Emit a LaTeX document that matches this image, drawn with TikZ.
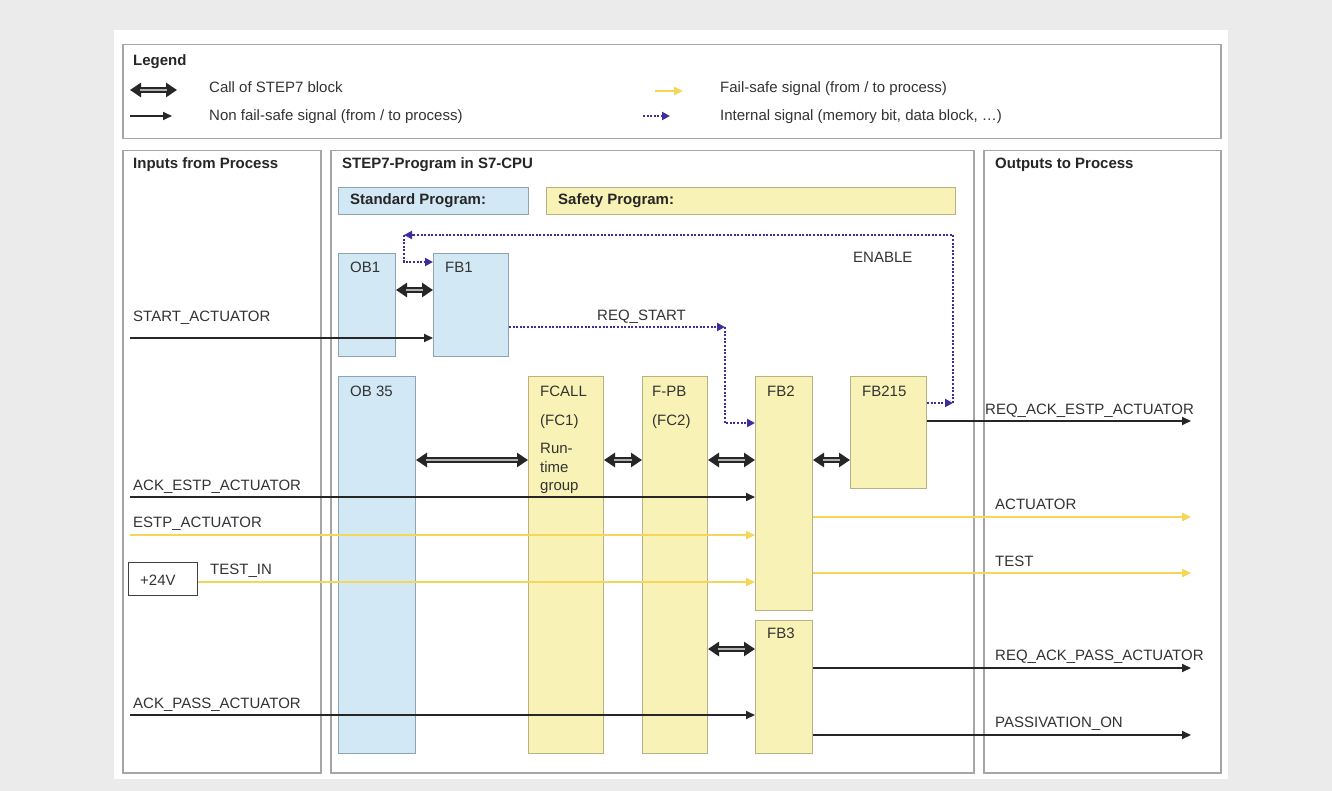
\documentclass[tikz,border=0pt]{standalone}
\usepackage{fontspec}
\setmainfont{Liberation Sans}
\usetikzlibrary{arrows.meta}
\definecolor{bg}{HTML}{EBEBEB}
\definecolor{panelc}{HTML}{A6A6A6}
\definecolor{bluef}{HTML}{D2E8F5}
\definecolor{blued}{HTML}{8FA4B2}
\definecolor{yelf}{HTML}{F8F2B6}
\definecolor{yeld}{HTML}{B9B184}
\definecolor{fsy}{HTML}{F4D659}
\definecolor{intc}{HTML}{3C2F9C}
\definecolor{txt}{HTML}{333333}
\tikzset{
  panel/.style={draw=panelc, line width=1.5pt, fill=white, anchor=north west, inner sep=0pt},
  sblk/.style={draw=blued, line width=1pt, fill=bluef, anchor=north west, inner sep=0pt},
  yblk/.style={draw=yeld, line width=1pt, fill=yelf, anchor=north west, inner sep=0pt},
  lbl/.style={anchor=base west, inner sep=0pt, text=txt, font=\fontsize{15}{18}\selectfont},
  blbl/.style={anchor=base west, inner sep=0pt, text=black!85, font=\bfseries\fontsize{15}{18}\selectfont},
  callarr/.style={draw=black!85, line width=5.5pt, {Triangle[length=11pt,width=14pt]}-{Triangle[length=11pt,width=14pt]},
     postaction={draw=gray!60, line width=2.8pt, arrows=-, shorten <=10pt, shorten >=10pt}},
  sig/.style={draw=black!85, line width=1.8pt, -{Triangle[length=9pt,width=8pt]}},
  fsig/.style={draw=fsy, line width=2.8pt, -{Triangle[length=9pt,width=8pt]}},
  isig/.style={draw=intc, line width=2pt, dash pattern=on 2pt off 1.6pt},
  isiga/.style={isig, -{Triangle[length=8pt,width=8pt]}},
}
\begin{document}
\begin{tikzpicture}[x=1pt,y=-1pt]
\useasboundingbox (0,0) rectangle (1332,791);
\fill[bg] (0,0) rectangle (1332,791);
\fill[white] (114,30) rectangle (1228,779);

% panels
\node[panel, minimum width=1098pt, minimum height=94pt] (legend) at (122,44) {};
\node[panel, minimum width=198pt, minimum height=622pt] (inp) at (122,150) {};
\node[panel, minimum width=643pt, minimum height=622pt] (prog) at (330,150) {};
\node[panel, minimum width=237pt, minimum height=622pt] (outp) at (983,150) {};

% legend
\node[blbl] (lgt) at (133,66) {Legend};
\coordinate (lc1) at (130,90); \coordinate (lc2) at (177,90);
\draw[callarr] (lc1) -- (lc2);
\node[lbl] (lt1) at (209,93) {Call of STEP7 block};
\coordinate (ln1) at (130,116); \coordinate (ln2) at (172,116);
\draw[sig] (ln1) -- (ln2);
\node[lbl] (lt2) at (209,121) {Non fail-safe signal (from / to process)};
\coordinate (lf1) at (655,91); \coordinate (lf2) at (683,91);
\draw[fsig] (lf1) -- (lf2);
\node[lbl] (lt3) at (720,93) {Fail-safe signal (from / to process)};
\coordinate (li1) at (643,116); \coordinate (li2) at (670,116);
\draw[isiga] (li1) -- (li2);
\node[lbl] (lt4) at (720,121) {Internal signal (memory bit, data block, \dots)};

% panel titles
\node[blbl] (tin) at (133,169) {Inputs from Process};
\node[blbl] (tprog) at (342,169) {STEP7-Program in S7-CPU};
\node[blbl] (tout) at (995,169) {Outputs to Process};

% program headers
\node[sblk, minimum width=190pt, minimum height=27pt] (stdp) at (338,187) {};
\node[blbl] at (350,205) {Standard Program:};
\node[yblk, minimum width=409pt, minimum height=27pt] (safp) at (546,187) {};
\node[blbl] at (558,205) {Safety Program:};

% blocks
\node[sblk, minimum width=57pt, minimum height=103pt] (ob1) at (338,253) {};
\node[lbl] at (350,273) {OB1};
\node[sblk, minimum width=75pt, minimum height=103pt] (fb1) at (433,253) {};
\node[lbl] at (445,273) {FB1};
\node[sblk, minimum width=77pt, minimum height=377pt] (ob35) at (338,376) {};
\node[lbl] at (350,396) {OB 35};
\node[yblk, minimum width=75pt, minimum height=377pt] (fcall) at (528,376) {};
\node[lbl] at (540,396) {FCALL};
\node[lbl] at (540,425) {(FC1)};
\node[lbl] at (540,453) {Run-};
\node[lbl] at (540,472) {time};
\node[lbl] at (540,490) {group};
\node[yblk, minimum width=65pt, minimum height=377pt] (fpb) at (642,376) {};
\node[lbl] at (652,396) {F-PB};
\node[lbl] at (652,425) {(FC2)};
\node[yblk, minimum width=57pt, minimum height=234pt] (fb2) at (755,376) {};
\node[lbl] at (767,396) {FB2};
\node[yblk, minimum width=76pt, minimum height=112pt] (fb215) at (850,376) {};
\node[lbl] at (862,396) {FB215};
\node[yblk, minimum width=57pt, minimum height=133pt] (fb3) at (755,620) {};
\node[lbl] at (767,638) {FB3};

% block calls
\draw[callarr] (ob1.east |- 0,290) -- (fb1.west |- 0,290);
\draw[callarr] (ob35.east |- 0,460) -- (fcall.west |- 0,460);
\draw[callarr] (fcall.east |- 0,460) -- (fpb.west |- 0,460);
\draw[callarr] (fpb.east |- 0,460) -- (fb2.west |- 0,460);
\draw[callarr] (fb2.east |- 0,460) -- (fb215.west |- 0,460);
\draw[callarr] (fpb.east |- 0,649) -- (fb3.west |- 0,649);

% internal signals
\coordinate (en1) at (953,403);
\coordinate (en2) at (404,235);
\draw[isiga] (fb215.east |- en1) -- (en1);
\draw[isiga] (en1) -- (en1 |- en2) -- (en2);
\draw[isiga] (en2) -- (404,262) -- (fb1.west |- 0,262);
\node[lbl] (enl) at (853,263) {ENABLE};
\coordinate (rs1) at (725,327);
\draw[isiga] (fb1.east |- rs1) -- (rs1);
\draw[isiga] (rs1) -- (725,423) -- (fb2.west |- 0,423);
\node[lbl] (rsl) at (597,320) {REQ\_START};

% inputs
\coordinate (i1) at (130,338);
\draw[sig] (i1) -- (fb1.west |- i1);
\node[lbl] at (133,321) {START\_ACTUATOR};
\coordinate (i2) at (130,497);
\draw[sig] (i2) -- (fb2.west |- i2);
\node[lbl] at (133,490) {ACK\_ESTP\_ACTUATOR};
\coordinate (i3) at (130,535);
\draw[fsig] (i3) -- (fb2.west |- i3);
\node[lbl] at (133,527) {ESTP\_ACTUATOR};
\node[draw=black!75, line width=1.2pt, fill=white, anchor=north west, minimum width=69pt, minimum height=33pt, inner sep=0pt] (v24) at (128,562) {};
\node[lbl] at (140,585) {+24V};
\draw[fsig] (v24.east |- 0,582) -- (fb2.west |- 0,582);
\node[lbl] at (210,574) {TEST\_IN};
\coordinate (i5) at (130,715);
\draw[sig] (i5) -- (fb3.west |- i5);
\node[lbl] at (133,708) {ACK\_PASS\_ACTUATOR};

% outputs
\coordinate (o1) at (1191,421);
\draw[sig] (fb215.east |- o1) -- (o1);
\node[lbl] at (985,414) {REQ\_ACK\_ESTP\_ACTUATOR};
\coordinate (o2) at (1191,517);
\draw[fsig] (fb2.east |- o2) -- (o2);
\node[lbl] at (995,509) {ACTUATOR};
\coordinate (o3) at (1191,573);
\draw[fsig] (fb2.east |- o3) -- (o3);
\node[lbl] at (995,566) {TEST};
\coordinate (o4) at (1191,668);
\draw[sig] (fb3.east |- o4) -- (o4);
\node[lbl] at (995,660) {REQ\_ACK\_PASS\_ACTUATOR};
\coordinate (o5) at (1191,735);
\draw[sig] (fb3.east |- o5) -- (o5);
\node[lbl] at (995,727) {PASSIVATION\_ON};
\end{tikzpicture}
\end{document}
